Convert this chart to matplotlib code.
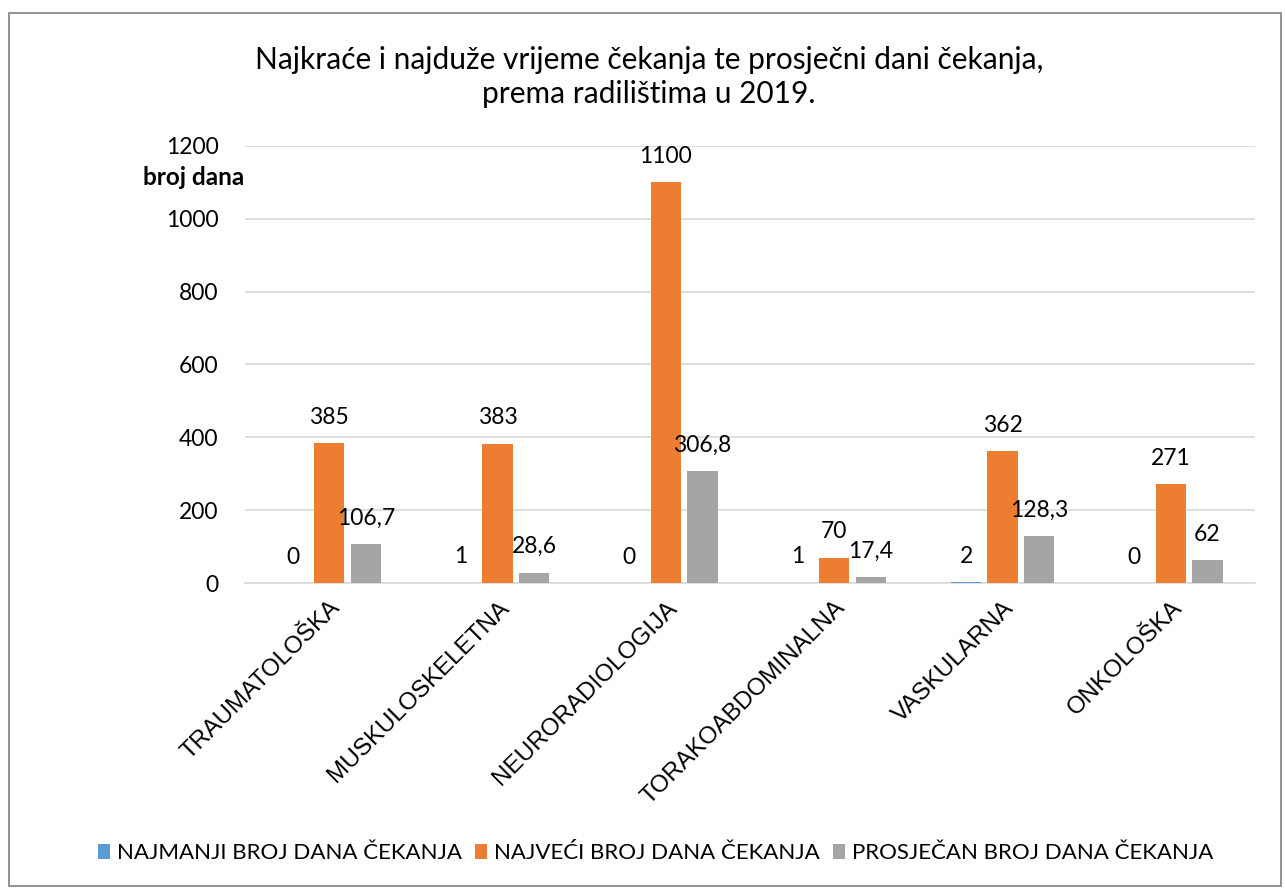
import numpy as np
import matplotlib
matplotlib.use("Agg")
import matplotlib.pyplot as plt
from matplotlib.patches import Rectangle

# podaci
radilista = ["TRAUMATOLOŠKA", "MUSKULOSKELETNA", "NEURORADIOLOGIJA",
             "TORAKOABDOMINALNA", "VASKULARNA", "ONKOLOŠKA"]
najmanji = [0, 1, 0, 1, 2, 0]
najveci = [385, 383, 1100, 70, 362, 271]
prosjecan = [106.7, 28.6, 306.8, 17.4, 128.3, 62]

serije = ["NAJMANJI BROJ DANA ČEKANJA", "NAJVEĆI BROJ DANA ČEKANJA",
          "PROSJEČAN BROJ DANA ČEKANJA"]
boje = ["#5B9BD5", "#ED7D31", "#A5A5A5"]

plt.rcParams["font.family"] = ["Lato", "DejaVu Sans"]

fig = plt.figure(figsize=(12.85, 8.89), dpi=100)
ax = fig.add_axes([0.1907, 0.3442, 0.786, 0.4916])

x = np.arange(len(radilista))
sirina = 0.18
pomak = 0.217

for i, (vrijednosti, boja, ime) in enumerate(zip([najmanji, najveci, prosjecan], boje, serije)):
    pozicije = x + (i - 1) * pomak
    ax.bar(pozicije, vrijednosti, sirina, color=boja, label=ime, zorder=3)
    for px, v in zip(pozicije, vrijednosti):
        tekst = f"{v:g}".replace(".", ",")
        ax.annotate(tekst, (px, v), xytext=(0, 11), textcoords="offset points",
                    ha="center", va="bottom", fontsize=16.5)

ax.set_xlim(-0.5, len(radilista) - 0.5)
ax.set_ylim(0, 1200)
ax.set_yticks(range(0, 1201, 200))
ax.tick_params(axis="y", labelsize=16.5, length=0, pad=19)
ax.tick_params(axis="x", length=0, pad=10)
ax.set_xticks(x)
ax.set_xticklabels(radilista, rotation=45, ha="right", va="top",
                   rotation_mode="anchor", fontsize=17.5, family="Liberation Sans")
ax.grid(axis="y", color="#D9D9D9", linewidth=1.2, zorder=0)
for s in ["top", "right", "left"]:
    ax.spines[s].set_visible(False)
ax.spines["bottom"].set_color("#D9D9D9")
ax.spines["bottom"].set_linewidth(1.2)

fig.text(0.505, 0.913, "Najkraće i najduže vrijeme čekanja te prosječni dani čekanja,\nprema radilištima u 2019.",
         ha="center", va="center", fontsize=21.5, linespacing=1.25)
fig.text(0.19, 0.8, "broj dana", ha="right", va="center", fontsize=17.5, fontweight="bold")

fig.legend(loc="center", bbox_to_anchor=(0.51, 0.04), ncol=3, frameon=False,
           fontsize=16, handlelength=0.55, handleheight=0.7, handletextpad=0.3,
           columnspacing=0.6)

fig.patches.append(Rectangle((0.007, 0.003), 0.99, 0.982, transform=fig.transFigure,
                             fill=False, edgecolor="#808080", linewidth=1.2))

fig.savefig("out.png", dpi=100)
